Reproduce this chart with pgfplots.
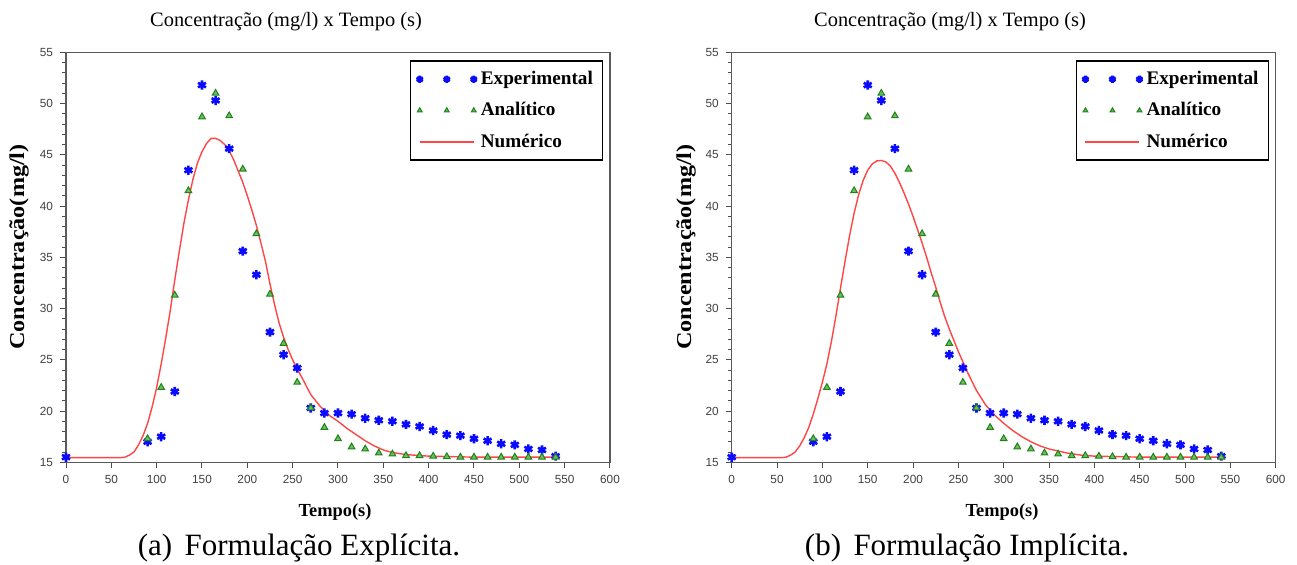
\documentclass[border=0pt]{standalone}
\usepackage{pgfplots}
\pgfplotsset{compat=1.18}
\usepackage{fontspec}
\setmainfont{Liberation Serif}
\setsansfont{Liberation Sans}
\definecolor{expblue}{RGB}{10,10,255}
\definecolor{anafill}{RGB}{110,190,90}
\definecolor{anadraw}{RGB}{30,130,30}
\definecolor{numred}{RGB}{255,70,70}
\definecolor{framegray}{RGB}{90,90,90}

\pgfplotstableread{
t c
0 15.5
90 17.0
105 17.5
120 21.9
135 43.5
150 51.8
165 50.3
180 45.6
195 35.6
210 33.3
225 27.7
240 25.5
255 24.2
270 20.3
285 19.8
300 19.8
315 19.7
330 19.3
345 19.1
360 19.0
375 18.7
390 18.5
405 18.1
420 17.7
435 17.6
450 17.3
465 17.1
480 16.8
495 16.7
510 16.3
525 16.2
540 15.6
}\experimental

\pgfplotstableread{
t c
90 17.3
105 22.3
120 31.3
135 41.5
150 48.7
165 51.0
180 48.8
195 43.6
210 37.3
225 31.4
240 26.6
255 22.8
270 20.3
285 18.4
300 17.3
315 16.5
330 16.3
345 15.9
360 15.8
375 15.65
390 15.65
405 15.6
420 15.55
435 15.5
450 15.5
465 15.5
480 15.5
495 15.5
510 15.5
525 15.5
540 15.5
}\analitico

\pgfplotstableread{
t c
0 15.45
60 15.45
65 15.5
70 15.7
75 16.0
80 16.7
85 17.6
90 18.8
95 20.4
100 22.3
105 24.6
110 27.1
115 29.8
120 32.8
125 35.6
130 38.3
135 40.6
140 42.6
145 44.2
150 45.3
155 46.1
160 46.6
165 46.6
170 46.4
175 46.0
180 45.4
185 44.5
190 43.4
195 42.3
200 41.0
205 39.6
210 38.1
215 36.4
220 34.6
225 32.4
230 30.4
235 28.6
240 27.2
245 26.0
250 25.0
255 24.1
260 23.3
270 21.6
280 20.5
290 19.6
300 19.0
310 18.3
320 17.7
330 17.1
340 16.6
350 16.2
360 15.95
375 15.75
400 15.6
450 15.5
545 15.5
}\numexp

\pgfplotstableread{
t c
0 15.45
55 15.45
60 15.5
65 15.7
70 16.0
75 16.6
80 17.4
85 18.4
90 19.7
95 21.2
100 22.8
105 24.6
110 26.8
115 29.3
120 32.0
125 34.6
130 37.1
135 39.3
140 41.1
145 42.5
150 43.5
155 44.1
160 44.4
165 44.45
170 44.3
175 43.9
180 43.2
185 42.3
190 41.3
195 40.2
200 39.0
205 37.7
210 36.4
215 35.0
220 33.5
225 32.1
230 30.6
235 29.2
240 28.0
245 26.9
250 25.8
255 24.8
260 23.8
270 22.0
280 20.6
290 19.6
300 18.8
310 18.1
320 17.5
330 17.0
340 16.6
350 16.3
360 16.1
370 15.9
385 15.7
400 15.6
450 15.5
545 15.5
}\numimp

\pgfplotsset{
  myaxis/.style={
    scale only axis, width=272pt, height=205pt,
    xmin=0, xmax=600, ymin=15, ymax=55,
    xtick={0,50,...,600}, ytick={15,20,...,55},
    minor y tick num=4,
    tick align=outside, tick pos=left,
    major tick length=3pt, minor tick length=2pt,
    axis line style={framegray, line width=0.6pt},
    every tick/.style={black!70, line width=0.5pt},
    tick label style={font=\sffamily\fontsize{5.9}{6}\selectfont, text=black!75},
    /pgf/number format/assume math mode=true,
    legend style={at={(0.988,0.98)}, anchor=north east, draw=black, line width=0.6pt,
      font=\bfseries\fontsize{9.6}{11}\selectfont, row sep=3.5pt, inner xsep=3pt, inner ysep=3pt},
    legend cell align=left,
  },
  expstyle/.style={only marks, mark=asterisk, mark size=2.3pt, color=expblue,
      mark options={line width=1.3pt},
      legend image code/.code={\draw[##1,only marks,mark size=1.8pt] plot coordinates {(-3pt,0pt)(10.5pt,0pt)(24pt,0pt)};}},
  anastyle/.style={only marks, mark=triangle*, mark size=1.9pt, color=anadraw,
      mark options={fill=anafill, line width=0.5pt},
      legend image code/.code={\draw[##1,only marks,mark size=1.4pt] plot coordinates {(-3pt,0pt)(10.5pt,0pt)(24pt,0pt)};}},
  numstyle/.style={no marks, color=numred, line width=0.7pt,
      legend image code/.code={\draw[##1] (-3pt,0pt) -- (24pt,0pt);}},
}

\begin{document}
\begin{tikzpicture}
\path[use as bounding box] (0,0) rectangle (648.5pt,282.5pt);

\begin{axis}[myaxis, at={(33pt,51.35pt)}, anchor=south west]
\addplot[expstyle] table[x=t,y=c] {\experimental};
\addlegendentry{Experimental}
\addplot[anastyle] table[x=t,y=c] {\analitico};
\addlegendentry{Analítico}
\addplot[numstyle] table[x=t,y=c] {\numexp};
\addlegendentry{Numérico}
\end{axis}

\begin{axis}[myaxis, at={(365.85pt,51.35pt)}, anchor=south west]
\addplot[expstyle] table[x=t,y=c] {\experimental};
\addlegendentry{Experimental}
\addplot[anastyle] table[x=t,y=c] {\analitico};
\addlegendentry{Analítico}
\addplot[numstyle] table[x=t,y=c] {\numimp};
\addlegendentry{Numérico}
\end{axis}

\node[font=\fontsize{10.2}{12}\selectfont] at (143pt,271.5pt) {Concentração (mg/l) x Tempo (s)};
\node[font=\fontsize{10.2}{12}\selectfont] at (475pt,271.5pt) {Concentração (mg/l) x Tempo (s)};
\node[font=\bfseries\fontsize{9.2}{11}\selectfont] at (167.5pt,26.5pt) {Tempo(s)};
\node[font=\bfseries\fontsize{9.2}{11}\selectfont] at (501pt,26.5pt) {Tempo(s)};
\node[font=\bfseries\fontsize{10.6}{12}\selectfont, rotate=90] at (9.5pt,159pt) {\scalebox{1.14}[1]{Concentração(mg/l)}};
\node[font=\bfseries\fontsize{10.6}{12}\selectfont, rotate=90] at (343pt,159pt) {\scalebox{1.14}[1]{Concentração(mg/l)}};
\node[font=\rmfamily\fontsize{15.5}{18}\selectfont] at (149.5pt,8.5pt) {(a)\hspace{0.4em}Formulação Explícita.};
\node[font=\rmfamily\fontsize{15.5}{18}\selectfont] at (483.5pt,8.5pt) {(b)\hspace{0.4em}Formulação Implícita.};
\end{tikzpicture}
\end{document}
